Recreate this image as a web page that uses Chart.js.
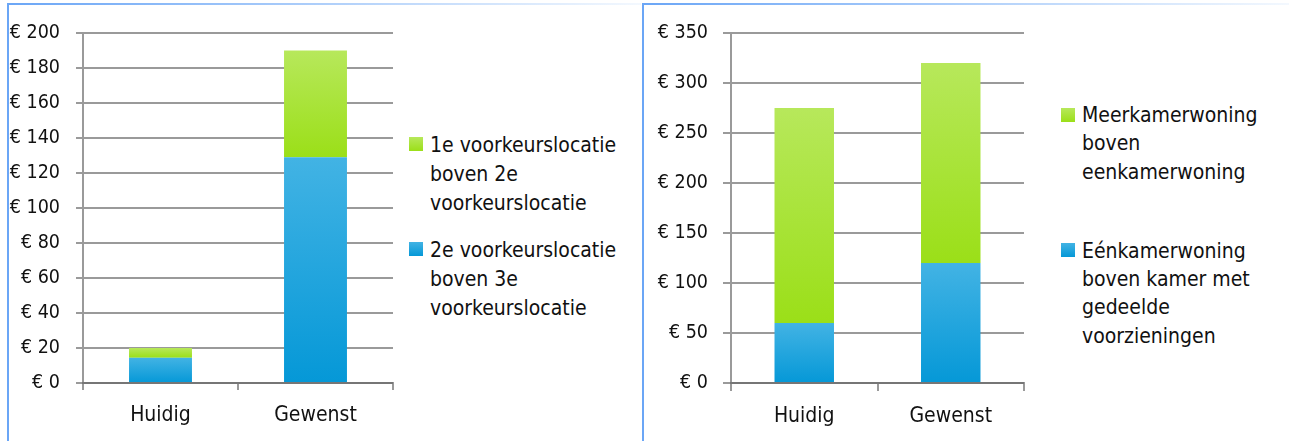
<!DOCTYPE html>
<html>
<head>
<meta charset="utf-8">
<script src="https://cdn.jsdelivr.net/npm/chart.js@4.4.1/dist/chart.umd.min.js"></script>
<style>
  html, body { margin: 0; padding: 0; background: #fff; }
  body { width: 1289px; height: 441px; position: relative; overflow: hidden;
         font-family: 'DejaVu Sans Condensed', 'Liberation Sans', Arial, sans-serif; color: #111; }
  .panel { position: absolute; top: 3px; height: 438px; border-left: 2px solid #6ba6f6; }
  .panel .topline { position: absolute; left: -2px; right: 0; top: 0; height: 2px;
         background: linear-gradient(to right, #6ba6f6, #f3f8fe); }
  canvas { position: absolute; top: 0; }
  .legend { position: absolute; font-size: 21px; color: #111; }
  .item { position: absolute; white-space: nowrap; }
  .box { position: absolute; width: 14px; height: 14px; }
</style>
</head>
<body>
<div class="panel" style="left:7px; width:632px;"><div class="topline"></div></div>
<div class="panel" style="left:642px; width:645px;"><div class="topline"></div></div>
<canvas id="c1" width="400" height="441" style="left:0px;"></canvas>
<canvas id="c2" width="400" height="441" style="left:645px;"></canvas>
<div id="legends"></div>
<script>
// ---- data ----
const categories = ['Huidig', 'Gewenst'];

const leftSeriesNames = [
  ['2e voorkeurslocatie', 'boven 3e', 'voorkeurslocatie'],
  ['1e voorkeurslocatie', 'boven 2e', 'voorkeurslocatie']
];
const leftBlue = [14.5, 129];
const leftGreen = [5.5, 61];
const leftTickLabels = ['€ 0', '€ 20', '€ 40', '€ 60', '€ 80', '€ 100', '€ 120', '€ 140', '€ 160', '€ 180', '€ 200'];

const rightSeriesNames = [
  ['Eénkamerwoning', 'boven kamer met', 'gedeelde', 'voorzieningen'],
  ['Meerkamerwoning', 'boven', 'eenkamerwoning']
];
const rightBlue = [60, 120];
const rightGreen = [215, 200];
const rightTickLabels = ['€ 0', '€ 50', '€ 100', '€ 150', '€ 200', '€ 250', '€ 300', '€ 350'];

// ---- styling ----
const FONT = "'DejaVu Sans Condensed', 'Liberation Sans', Arial, sans-serif";
const TEXT = '#111111';
const GRID = 'rgba(100,100,100,0.65)';
const BLUE = ['#42b3e4', '#0598d7'];
const GREEN = ['#b7e85b', '#9bdf18'];

function segmentFill(colors, seriesBelow, seriesOwn) {
  return (c) => {
    const chart = c.chart;
    if (c.type !== 'data' || !chart.chartArea || !chart.scales.y) return colors[1];
    const i = c.dataIndex;
    let base = 0;
    seriesBelow.forEach(s => { base += s[i]; });
    const top = base + seriesOwn[i];
    const y0 = chart.scales.y.getPixelForValue(base);
    const y1 = chart.scales.y.getPixelForValue(top);
    if (!isFinite(y0) || !isFinite(y1) || y0 === y1) return colors[1];
    const g = chart.ctx.createLinearGradient(0, y1, 0, y0);
    g.addColorStop(0, colors[0]);
    g.addColorStop(1, colors[1]);
    return g;
  };
}

function makeChart(id, blue, green, names, max, step, tickLabels, cfg) {
  return new Chart(document.getElementById(id), {
    type: 'bar',
    data: {
      labels: categories,
      datasets: [
        { label: names[0].join(' '), data: blue, backgroundColor: segmentFill(BLUE, [], blue),
          borderWidth: 0, categoryPercentage: 1, barPercentage: 0.406 },
        { label: names[1].join(' '), data: green, backgroundColor: segmentFill(GREEN, [blue], green),
          borderWidth: 0, categoryPercentage: 1, barPercentage: 0.406 }
      ]
    },
    options: {
      responsive: false,
      animation: false,
      events: [],
      layout: { padding: { left: 0, top: 33, right: cfg.padRight, bottom: 0 } },
      plugins: { legend: { display: false }, tooltip: { enabled: false } },
      scales: {
        x: {
          stacked: true,
          grid: { display: true, drawOnChartArea: false, drawTicks: true, tickLength: cfg.tick,
                  color: GRID, lineWidth: 2, offset: true },
          border: { display: true, color: GRID, width: 2 },
          ticks: { padding: 13, color: TEXT, font: { family: FONT, size: 21 } },
          afterFit: (s) => { s.height = 58; }
        },
        y: {
          stacked: true, min: 0, max: max, z: 1,
          grid: { color: GRID, lineWidth: 2, drawTicks: true, tickLength: cfg.tick },
          border: { display: true, color: GRID, width: 2 },
          ticks: { stepSize: step, padding: cfg.labelPad, color: TEXT,
                   font: { family: FONT, size: 19.5 },
                   callback: (v, i) => tickLabels[i] },
          afterFit: (s) => { s.width = cfg.axisWidth; }
        }
      }
    }
  });
}

makeChart('c1', leftBlue, leftGreen, leftSeriesNames, 200, 20, leftTickLabels,
  { padRight: 7, tick: 7, labelPad: 16, axisWidth: 83 });
makeChart('c2', rightBlue, rightGreen, rightSeriesNames, 350, 50, rightTickLabels,
  { padRight: 21, tick: 8, labelPad: 15, axisWidth: 86 });

// ---- HTML legends (green entry first, as in the picture) ----
function addLegend(boxX, textX, lineH, entries) {
  const host = document.getElementById('legends');
  entries.forEach(e => {
    const b = document.createElement('div');
    b.className = 'box';
    b.style.left = boxX + 'px';
    b.style.top = e.boxTop + 'px';
    b.style.background = 'linear-gradient(to bottom,' + e.colors[0] + ',' + e.colors[1] + ')';
    host.appendChild(b);
    const t = document.createElement('div');
    t.className = 'legend item';
    t.style.left = textX + 'px';
    t.style.top = e.textTop + 'px';
    t.style.lineHeight = lineH + 'px';
    t.innerHTML = e.lines.map(l => l.replace(/&/g, '&amp;').replace(/</g, '&lt;')).join('<br>');
    host.appendChild(t);
  });
}
addLegend(409, 430, 29, [
  { lines: leftSeriesNames[1], colors: GREEN, boxTop: 137, textTop: 130.5 },
  { lines: leftSeriesNames[0], colors: BLUE, boxTop: 242, textTop: 235.5 }
]);
addLegend(1061, 1082, 28.4, [
  { lines: rightSeriesNames[1], colors: GREEN, boxTop: 108, textTop: 101 },
  { lines: rightSeriesNames[0], colors: BLUE, boxTop: 243, textTop: 236.5 }
]);
</script>
</body>
</html>
